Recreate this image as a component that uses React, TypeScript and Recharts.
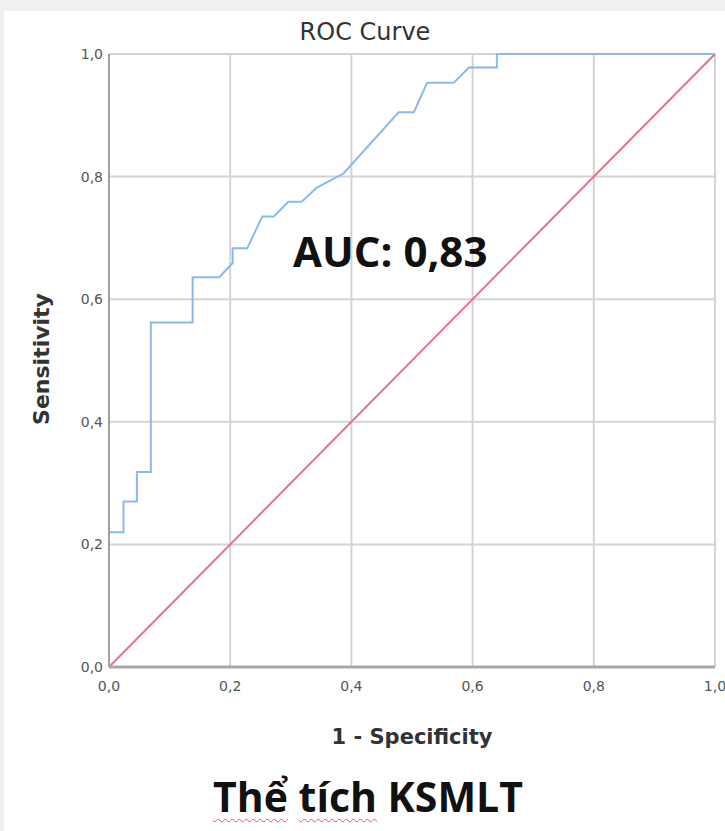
import React from "react";
import {
  LineChart,
  Line,
  XAxis,
  YAxis,
  CartesianGrid,
} from "recharts";

// ROC curve steps: false positive rate vs. true positive rate
const FPR = [
  0, 0, 0.024, 0.024, 0.046, 0.046, 0.069, 0.069, 0.138, 0.138, 0.182, 0.204,
  0.204, 0.228, 0.253, 0.272, 0.296, 0.318, 0.343, 0.387, 0.478, 0.503, 0.525,
  0.569, 0.594, 0.64, 0.64, 1,
];
const TPR = [
  0, 0.22, 0.22, 0.27, 0.27, 0.318, 0.318, 0.562, 0.562, 0.636, 0.636, 0.659,
  0.683, 0.683, 0.735, 0.735, 0.759, 0.759, 0.782, 0.805, 0.905, 0.905, 0.953,
  0.953, 0.978, 0.978, 1, 1,
];
// reference line (chance)
const DIAG_X = [0, 1];
const DIAG_Y = [0, 1];
const TICKS = [0, 0.2, 0.4, 0.6, 0.8, 1];
const AUC = "0,83";

const rocData = FPR.map((x, i) => ({ x, roc: TPR[i] }));
const diagData = DIAG_X.map((x, i) => ({ x, diag: DIAG_Y[i] }));

const fmt = (v: number) => v.toFixed(1).replace(".", ",");

const SANS = "'DejaVu Sans', sans-serif";
const TITLE_FONT = "'Open Sans', sans-serif";

const squiggle = {
  textDecoration: "underline wavy #e05a5a",
  textDecorationThickness: 1,
  textUnderlineOffset: 6,
};

export default function App() {
  const tick = { fill: "#555", fontSize: 14, fontFamily: SANS };
  return (
    <div
      style={{
        position: "absolute",
        left: 0,
        top: 0,
        width: 725,
        height: 831,
        background: "#f0f0f0",
        overflow: "hidden",
      }}
    >
      <div
        style={{
          position: "absolute",
          left: 4,
          top: 11,
          right: 0,
          bottom: 0,
          background: "#fff",
        }}
      />
      <div style={{ position: "absolute", left: 0, top: 0 }}>
        <LineChart
          width={725}
          height={831}
          margin={{ top: 54, right: 10, bottom: 134, left: 79 }}
        >
          <CartesianGrid stroke="#d4d4d4" strokeWidth={2} />
          <XAxis
            dataKey="x"
            type="number"
            domain={[0, 1]}
            ticks={TICKS}
            tickFormatter={fmt}
            tick={tick}
            tickLine={false}
            tickSize={6}
            tickMargin={8}
            height={30}
            axisLine={{ stroke: "#a8a8a8", strokeWidth: 3 }}
            allowDuplicatedCategory={false}
          />
          <YAxis
            type="number"
            domain={[0, 1]}
            ticks={TICKS}
            tickFormatter={fmt}
            tick={tick}
            tickLine={false}
            tickSize={4}
            tickMargin={2}
            width={30}
            axisLine={{ stroke: "#a0a0a0", strokeWidth: 2 }}
          />
          <Line
            data={diagData}
            dataKey="diag"
            type="linear"
            stroke="#e8708a"
            strokeWidth={2}
            dot={false}
            isAnimationActive={false}
          />
          <Line
            data={rocData}
            dataKey="roc"
            type="linear"
            stroke="#8cb8ec"
            strokeWidth={2}
            dot={false}
            isAnimationActive={false}
          />
        </LineChart>
      </div>
      <div
        style={{
          position: "absolute",
          left: 0,
          width: 730,
          top: 20,
          textAlign: "center",
          fontFamily: SANS,
          fontSize: 24,
          lineHeight: "24px",
          color: "#333",
        }}
      >
        ROC Curve
      </div>
      <div
        style={{
          position: "absolute",
          left: 109,
          width: 606,
          top: 727,
          textAlign: "center",
          fontFamily: SANS,
          fontWeight: 700,
          fontSize: 21,
          lineHeight: "21px",
          color: "#333",
        }}
      >
        1 - Specificity
      </div>
      <div
        style={{
          position: "absolute",
          left: 42 - 100,
          width: 200,
          top: 359 - 11,
          textAlign: "center",
          fontFamily: SANS,
          fontWeight: 700,
          fontSize: 22,
          lineHeight: "22px",
          color: "#333",
          transform: "rotate(-90deg)",
        }}
      >
        Sensitivity
      </div>
      <div
        style={{
          position: "absolute",
          left: 293,
          top: 230,
          fontFamily: TITLE_FONT,
          fontWeight: 700,
          fontSize: 42,
          lineHeight: "42px",
          color: "#111",
          whiteSpace: "nowrap",
        }}
      >
        AUC: {AUC}
      </div>
      <div
        style={{
          position: "absolute",
          left: 213,
          top: 776,
          fontFamily: TITLE_FONT,
          fontWeight: 700,
          fontSize: 41,
          lineHeight: "41px",
          color: "#111",
          whiteSpace: "nowrap",
        }}
      >
        <span style={squiggle}>Thể</span> <span style={squiggle}>tích</span>{" "}
        KSMLT
      </div>
    </div>
  );
}
